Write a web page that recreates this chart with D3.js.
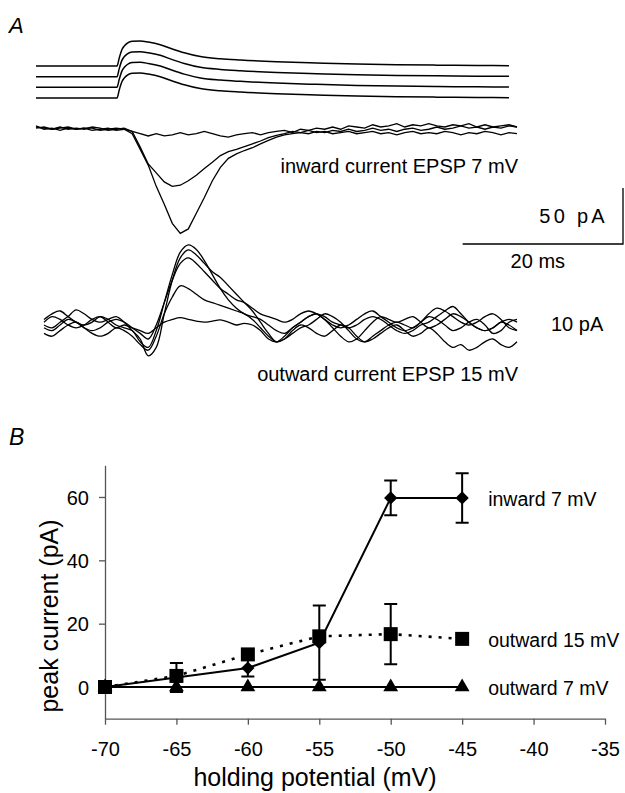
<!DOCTYPE html>
<html lang="en">
<head>
<meta charset="UTF-8">
<title>EPSP currents</title>
<script src="https://d3js.org/d3.v7.min.js"></script>
<style>
    body { margin: 0; background: #fff; }
    text { font-family: 'Liberation Sans', Arial, sans-serif; fill: #000; }
</style>
</head>
<body>
<script>
    const width = 625;
    const height = 793;

    // ---- panel A: EPSP command waveforms (mV) ----
    const epspHolding = [-55, -60, -65, -70];
    const epspTime = [0, 10.1, 10.4, 10.7, 11.0, 11.4, 12, 13, 14, 15.5, 17, 18.5, 20.5, 23, 25.5, 30, 35, 40, 45, 50, 55, 59];
    const epspWave = [0, 0, 4, 7.5, 9.3, 10.7, 11.6, 11.7, 11.2, 10, 8, 6.2, 4.4, 3.4, 2.8, 2.0, 1.4, 0.9, 0.6, 0.4, 0.25, 0.15];

    // ---- panel A: inward currents (pA), one sample per ms from t = 0 ----
    const inwardLarge = [1, -2, -1, -3, -1, -2, -1, -3, -2, -1, -3, -2, -6, -20, -34, -53, -69, -86, -95, -91,
        -77, -63, -48, -36, -28, -24, -21, -18.5, -15, -12, -9, -7, -6, -5, -6, -4, -5, -3, -4, -2,
        -4, -3, -1, -3, -2, -4, -2, -1, -3, -2, 0, -2, -1, 1, -1, 0, -2, 0, -1, 1, 0];
    const inwardMedium = [0, -1, -2, 0, -2, -1, -2, 0, -1, -3, -2, -1, -4, -18, -33, -41, -49, -53, -52, -48,
        -43, -37, -31.5, -25.5, -22, -20, -17.5, -15, -12.5, -9.5, -7.5, -6, -4, -5, -3, -5, -4, -6, -5, -4,
        -6, -5, -4, -6, -5, -7, -5, -4, -6, -5, -6, -4, -5, -7, -5, -6, -4, -5, -7, -5, -6];
    const inwardSmall = [-1, 0, -2, -1, 0, -2, -1, -1, -3, -2, -1, -2, -4, -6, -8, -6, -8, -7, -5, -7,
        -6, -4, -6, -8, -9, -7, -6, -5, -7, -5, -4, -3, -5, -2, -3, -1, -2, 0, -2, 1,
        0, -1, 2, 0, 1, 3, 0, 2, 1, 3, 1, 0, 2, 1, 3, 0, 2, 0, 1, 2, 0];

    // ---- panel A: outward currents (pA), one sample per ms from t = 1 ----
    const outwardTraces = [
        [1, 2, 2.5, 1.5, 0.5, 0, 0.5, 1.5, 1, 0, -0.5, -1, -3, -4, -1, 4, 9, 13, 14.3, 13.5,
         11.5, 9, 6.5, 4.5, 3, 2, 1.5, 1, 0, -1, -1.5, -0.5, 0.5, 1.5, 2, 1.5, 0.5, 0, -0.5, 0,
         1, 1.5, 1, 0, -1, -1.5, -1, 0, 0.5, 1.5, 2.5, 3.3, 2, 0.5, -0.5, -1, -0.5, 0.5, 1, 0.5],
        [0, -0.5, 0.5, 1.5, 2.7, 2, 1, 0.5, 1, 1.5, 0.5, -1, -2.5, -5.5, -4, 2, 8, 12, 13.4, 12.5,
         11, 9.5, 8.5, 7, 5.5, 4, 2.5, 0.5, -1.5, -3, -2.5, -1.5, -0.5, 0, 1, 2, 1.5, 0.5, -1, -2.5,
         -3, -2, -1, 0, 0.5, 0, -0.5, 0.5, 1.5, 1, 0, -1, -0.5, 0.5, 1, 0, -1.5, -1, 0.5, 1],
        [-0.5, -1, 0, 1, 0.5, -0.5, -1, -0.5, 0.5, 1, 0.5, -0.5, -1.5, -2.5, 0, 4, 8, 11, 12, 11,
         9.5, 8, 6.5, 5.5, 4.5, 4, 3, 2, 1.5, 1, 0.5, 1, 2, 2.5, 2, 1, 0, -0.5, 0, 1,
         2, 2.5, 1.5, 0.5, -0.5, -1, -0.5, 0.5, 2, 3, 2.5, 1.5, 0.5, 0, 0.5, 1.5, 2, 1, -0.5, -1],
        [-1.5, -2, -1, 0, 0.5, -0.5, -1.5, -2, -1.5, -0.5, -1, -2, -3.5, -4.5, -2, 2, 5, 7, 6.5, 5.5,
         4.5, 4, 3.5, 3, 2.5, 2, 1, -0.5, -2, -3, -2.5, -1, 0, -0.5, -1.5, -2, -1, 0, -0.5, -2,
         -3, -2.5, -1.5, -0.5, 0, -1, -2, -1.5, -0.5, -1.5, -3, -4, -3.5, -4.5, -4, -3, -2.5, -3.5, -4, -3],
        [0.5, 1.5, 1, 0, -0.5, 0, 1, 1.5, 0.5, -0.5, 0, -0.5, -1, -1.5, -0.5, 0.5, 1, 1.3, 1, 0.7,
         0.5, 0.7, 0.9, 0.5, 0, 0.3, 0, -1, -2.5, -3, -2, -0.5, 0.5, 1.5, 2, 1, -0.5, -2, -3, -2.5,
         -1, 0.5, 1.5, 1, 0.5, 1, 1.5, 0.5, -0.5, 0, 1, 2, 1.5, 0.5, -0.5, -1, -0.5, 0.5, 0, -1]
    ];

    // ---- panel B: peak current vs holding potential ----
    const holdingPotentials = [-70, -65, -60, -55, -50, -45];
    const inward7 = [0, 3, 6, 14, 59.7, 59.7];
    const inward7Err = [0, 4.6, 2.7, 11.7, 5.5, 7.8];
    const outward15 = [0, 3.5, 10.3, 16, 16.7, 15.2];
    const outward15Err = [0, 0, 0, 0, 9.5, 0];
    const outward7 = [0, 0, 0, 0, 0, 0];
    const holdingTicks = [-70, -65, -60, -55, -50, -45, -40, -35];
    const currentTicks = [0, 20, 40, 60];

    const svg = d3.select("body").append("svg")
        .attr("width", width).attr("height", height);

    // ================= panel A =================
    const xTime = d3.scaleLinear().domain([0, 60]).range([36, 517]);
    const yEpsp = d3.scaleLinear().domain([-70, -55]).range([98, 66]);
    const yInward = d3.scaleLinear().domain([-100, 0]).range([239, 127]);
    const yOutward = d3.scaleLinear().domain([0, 10]).range([325, 269]);

    svg.append("text").attr("x", 9).attr("y", 33)
        .style("font-size", "22px").style("font-style", "italic").text("A");

    const epspLine = d3.line()
        .x((d, i) => xTime(epspTime[i]))
        .y(d => d)
        .curve(d3.curveMonotoneX);

    epspHolding.forEach(v => {
        svg.append("path")
            .attr("d", epspLine(epspWave.map(w => yEpsp(v + w))))
            .attr("fill", "none").attr("stroke", "#000").attr("stroke-width", 1.5);
    });

    const inwardLine = d3.line()
        .x((d, i) => xTime(i))
        .y(d => yInward(d));

    [inwardSmall, inwardMedium, inwardLarge].forEach(tr => {
        svg.append("path").attr("d", inwardLine(tr))
            .attr("fill", "none").attr("stroke", "#000").attr("stroke-width", 1.3);
    });

    const outwardLine = d3.line()
        .x((d, i) => xTime(i + 1))
        .y(d => yOutward(d))
        .curve(d3.curveCatmullRom);

    outwardTraces.forEach(tr => {
        svg.append("path").attr("d", outwardLine(tr))
            .attr("fill", "none").attr("stroke", "#000").attr("stroke-width", 1.3);
    });

    svg.append("text").attr("x", 518).attr("y", 173).attr("text-anchor", "end")
        .style("font-size", "20px").text("inward current EPSP 7 mV");
    svg.append("text").attr("x", 518).attr("y", 381).attr("text-anchor", "end")
        .style("font-size", "20px").text("outward current EPSP 15 mV");

    // scale bars: 20 ms, 50 pA (inward) / 10 pA (outward)
    const barRight = 623, barBottom = 244;
    const barW = xTime(20) - xTime(0);
    const barH = yInward(-50) - yInward(0);
    svg.append("path")
        .attr("d", `M${barRight - barW},${barBottom}H${barRight}V${barBottom - barH}`)
        .attr("fill", "none").attr("stroke", "#000").attr("stroke-width", 1.3);
    svg.append("text").attr("x", 608).attr("y", 223).attr("text-anchor", "end")
        .style("font-size", "20px").style("letter-spacing", "3.3px").text("50 pA");
    svg.append("text").attr("x", barRight - barW / 2 - 5).attr("y", 268).attr("text-anchor", "middle")
        .style("font-size", "20px").text("20 ms");
    svg.append("text").attr("x", 551).attr("y", 331)
        .style("font-size", "20px").text("10 pA");

    // ================= panel B =================
    const xHold = d3.scaleLinear().domain([-70, -35]).range([105, 605]);
    const yPeak = d3.scaleLinear().domain([-10, 70]).range([718.7, 465.3]);

    svg.append("text").attr("x", 9).attr("y", 445)
        .style("font-size", "23px").style("font-style", "italic").text("B");

    const xAxis = svg.append("g")
        .attr("transform", `translate(0,${yPeak(-10)})`)
        .call(d3.axisBottom(xHold).tickValues(holdingTicks)
            .tickFormat(d => String(d)).tickSize(6).tickSizeOuter(0).tickPadding(17));
    const yAxis = svg.append("g")
        .attr("transform", `translate(${xHold(-70)},0)`)
        .call(d3.axisLeft(yPeak).tickValues(currentTicks)
            .tickFormat(d => String(d)).tickSize(6).tickSizeOuter(0).tickPadding(10));

    [xAxis, yAxis].forEach(g => {
        g.selectAll("path, line").attr("stroke", "#555").attr("stroke-width", 1.3);
        g.selectAll("text").attr("font-family", null).attr("fill", "#000")
            .style("font-size", "20px");
    });
    yAxis.selectAll("text").attr("dy", "0.36em");

    svg.append("text").attr("x", 315).attr("y", 786).attr("text-anchor", "middle")
        .style("font-size", "25px").text("holding potential (mV)");
    svg.append("text")
        .attr("transform", `translate(58,616) rotate(-90)`)
        .attr("text-anchor", "middle")
        .style("font-size", "25px").text("peak current (pA)");

    const seriesLine = vals => d3.line()
        .x((d, i) => xHold(holdingPotentials[i]))
        .y(d => yPeak(d))(vals);

    svg.append("path").attr("d", seriesLine(outward7))
        .attr("fill", "none").attr("stroke", "#000").attr("stroke-width", 2);
    svg.append("path").attr("d", seriesLine(outward15))
        .attr("fill", "none").attr("stroke", "#000").attr("stroke-width", 2.6)
        .attr("stroke-dasharray", "3,7");
    svg.append("path").attr("d", seriesLine(inward7))
        .attr("fill", "none").attr("stroke", "#000").attr("stroke-width", 2);

    // error bars
    const errorBars = (vals, errs) => {
        vals.forEach((v, i) => {
            if (!errs[i]) return;
            const x = xHold(holdingPotentials[i]);
            const y0 = yPeak(v - errs[i]), y1 = yPeak(v + errs[i]);
            svg.append("path")
                .attr("d", `M${x},${y0}V${y1}M${x - 6.5},${y0}H${x + 6.5}M${x - 6.5},${y1}H${x + 6.5}`)
                .attr("fill", "none").attr("stroke", "#000").attr("stroke-width", 2);
        });
    };
    errorBars(inward7, inward7Err);
    errorBars(outward15, outward15Err);

    // markers
    const marker = (vals, type, size, rot) => {
        svg.append("g").selectAll("path").data(vals).join("path")
            .attr("transform", (d, i) => `translate(${xHold(holdingPotentials[i])},${yPeak(d)}) rotate(${rot})`)
            .attr("d", d3.symbol(type, size))
            .attr("fill", "#000");
    };
    marker(inward7, d3.symbolSquare, 88, 45);
    marker(outward15, d3.symbolSquare, 196, 0);
    marker(outward7, d3.symbolTriangle, 95, 0);

    // series labels
    const labelX = xHold(-45) + 26;
    [["inward 7 mV", inward7], ["outward 15 mV", outward15], ["outward 7 mV", outward7]].forEach(([name, vals]) => {
        svg.append("text").attr("x", labelX).attr("y", yPeak(vals[vals.length - 1]) + 8)
            .style("font-size", "19.5px").text(name);
    });
</script>
</body>
</html>
